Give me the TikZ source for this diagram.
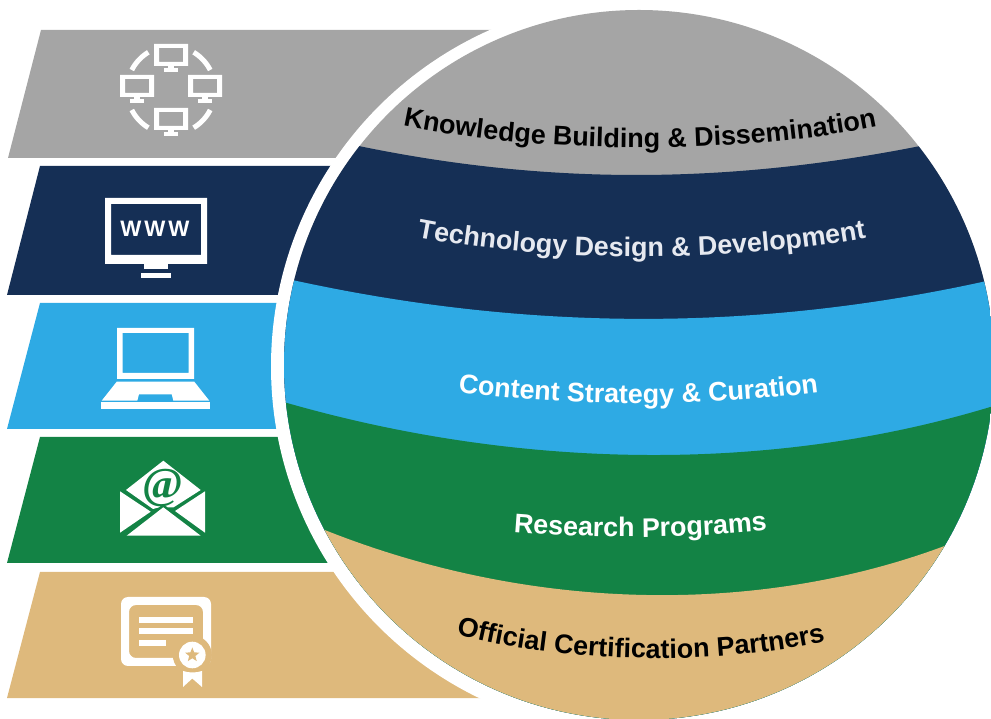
\documentclass[tikz,border=0pt]{standalone}
\usepackage{fontspec}
\setmainfont{Liberation Sans}
\newfontfamily\atfont{Liberation Serif}
\usepackage{tikz}
\usetikzlibrary{decorations.text,shapes.geometric}
\definecolor{bandgray}{HTML}{A5A5A5}
\definecolor{bandnavy}{HTML}{152F55}
\definecolor{bandblue}{HTML}{2EAAE4}
\definecolor{bandgreen}{HTML}{138345}
\definecolor{bandtan}{HTML}{DEB97C}
\definecolor{lightlabel}{HTML}{E6E9F0}

\begin{document}
\begin{tikzpicture}[
      x=0.01cm,
      y=-0.01cm,
      darklabel/.style={
        decorate,
        decoration={text along path,text align=center,
          text={|\bfseries\fontsize{7.65}{9}\selectfont|#1}}
      },
      whitelabel/.style={
        decorate,
        decoration={text along path,text align=center,text color=white,
          text={|\bfseries\fontsize{7.65}{9}\selectfont|#1}}
      },
      palelabel/.style={
        decorate,
        decoration={text along path,text align=center,text color=lightlabel,
          text={|\bfseries\fontsize{7.65}{9}\selectfont|#1}}
      },
      pcicon/.pic={
        \fill[white,even odd rule] (0,0) rectangle (34,22) (5,4) rectangle (29,18);
        \fill[white] (14,22) rectangle (20,25);
        \fill[white] (10,24) rectangle (24,28);
      }
    ]
      \useasboundingbox (0,0) rectangle (991,719);

      \fill[bandgray] (41,30) -- (640,30) -- (640,158) -- (8,158) -- cycle;
      \fill[bandnavy] (40,166) -- (640,166) -- (640,295) -- (7,295) -- cycle;
      \fill[bandblue] (40,303) -- (640,303) -- (640,429) -- (7,429) -- cycle;
      \fill[bandgreen] (40,437) -- (640,437) -- (640,563) -- (7,563) -- cycle;
      \fill[bandtan] (40,572) -- (640,572) -- (640,698) -- (7,698) -- cycle;

      \fill[white] (639,366.5) circle[radius=368];

      \begin{scope}
        \clip (639,365) circle[radius=355];
        \fill[bandgray] (270,0) rectangle (1000,730);
        \fill[bandnavy] (340,142) .. controls (540,186) and (730,186) .. (940,142)
          -- (1000,142) -- (1000,730) -- (270,730) -- (270,142) -- cycle;
        \fill[bandblue] (270,275) .. controls (520,333) and (760,333) .. (1000,278)
          -- (1000,730) -- (270,730) -- cycle;
        \fill[bandgreen] (270,398) .. controls (520,473) and (780,473) .. (1000,404)
          -- (1000,730) -- (270,730) -- cycle;
        \fill[bandtan] (310,524) .. controls (530,616) and (770,616) .. (960,540)
          -- (1000,540) -- (1000,730) -- (270,730) -- (270,524) -- cycle;
      \end{scope}

      \path[darklabel={Knowledge Building {\&} Dissemination}]
        (400,125) .. controls (540,155) and (740,155) .. (880,126);
      \path[palelabel={Technology Design {\&} Development}]
        (416,237) .. controls (550,263) and (730,263) .. (867,238);
      \path[whitelabel={Content Strategy {\&} Curation}]
        (456,392) .. controls (570,407) and (710,407) .. (821,392);
      \path[whitelabel={Research Programs}]
        (512,532) .. controls (600,539) and (680,539) .. (769,530);
      \path[darklabel={Official Certification Partners}]
        (454,634) .. controls (570,665) and (720,665) .. (828,641);

      \pic (pctop) at (154,44) {pcicon};
      \pic (pcleft) at (120,75) {pcicon};
      \pic (pcright) at (188,75) {pcicon};
      \pic (pcbottom) at (154,108) {pcicon};
      \draw[white,line width=0.05cm] (171,90) ++(121:44) arc[start angle=121,end angle=153,radius=44];
      \draw[white,line width=0.05cm] (171,90) ++(27:44) arc[start angle=27,end angle=59,radius=44];
      \draw[white,line width=0.05cm] (171,90) ++(207:44) arc[start angle=207,end angle=239,radius=44];
      \draw[white,line width=0.05cm] (171,90) ++(301:44) arc[start angle=301,end angle=333,radius=44];

      \fill[white,even odd rule] (105,198) rectangle (207,264) (111,204) rectangle (201,255);
      \fill[white] (144,264) rectangle (168,269);
      \fill[white] (141,273) rectangle (171,278);
      \node (www1) at (131,229) [text=white,inner sep=0pt,font=\bfseries\fontsize{6.35}{8}\selectfont]{W};
      \node (www2) at (155,229) [text=white,inner sep=0pt,font=\bfseries\fontsize{6.35}{8}\selectfont]{W};
      \node (www3) at (179,229) [text=white,inner sep=0pt,font=\bfseries\fontsize{6.35}{8}\selectfont]{W};

      \fill[white,even odd rule] (117,328) rectangle (194,379) (122.7,333) rectangle (188.7,373);
      \fill[white] (116.7,381.7) -- (194.3,381.7) -- (209.3,400.7) -- (173.3,400.7) -- (171.7,394.3)
        -- (139,394.3) -- (137.3,400.7) -- (101.7,400.7) -- cycle;
      \fill[white] (101,402) rectangle (210,409);

      \fill[white] (163.3,460.7) -- (200.7,490) -- (173.3,507.5) -- (168,507.5) -- (163.3,504)
        -- (158.5,507.5) -- (153,509) -- (126,490) -- cycle;
      \fill[white] (120,491.3) -- (150.7,511.7) -- (120,532.7) -- cycle;
      \fill[white] (205,491.3) -- (175,511) -- (205,532.7) -- cycle;
      \fill[white] (163.3,507.3) -- (200.7,535.7) -- (126.7,535.7) -- cycle;
      \node (mailat) at (162.5,488) [text=bandgreen,inner sep=0pt,font=\atfont\bfseries\fontsize{12.5}{14}\selectfont]{@};

      \fill[white,rounded corners=0.07cm,even odd rule] (121,597) rectangle (211,666) (129,605) rectangle (203,658);
      \fill[white] (139,617) rectangle (193,623);
      \fill[white] (139,628) rectangle (193,634);
      \fill[white] (139,640) rectangle (166,646);
      \fill[bandtan] (192.3,655) circle[radius=19.5];
      \fill[white] (192.3,655) circle[radius=13.3];
      \node (certstar) at (192.3,655) [star,star points=5,star point ratio=2.3,fill=bandtan,inner sep=0pt,minimum size=0.15cm]{};
      \fill[white] (183,671) .. controls (189,673) and (196,673) .. (202,671) -- (202,687) -- (192.3,678.5) -- (183,687) -- cycle;
    \end{tikzpicture}
\end{document}
